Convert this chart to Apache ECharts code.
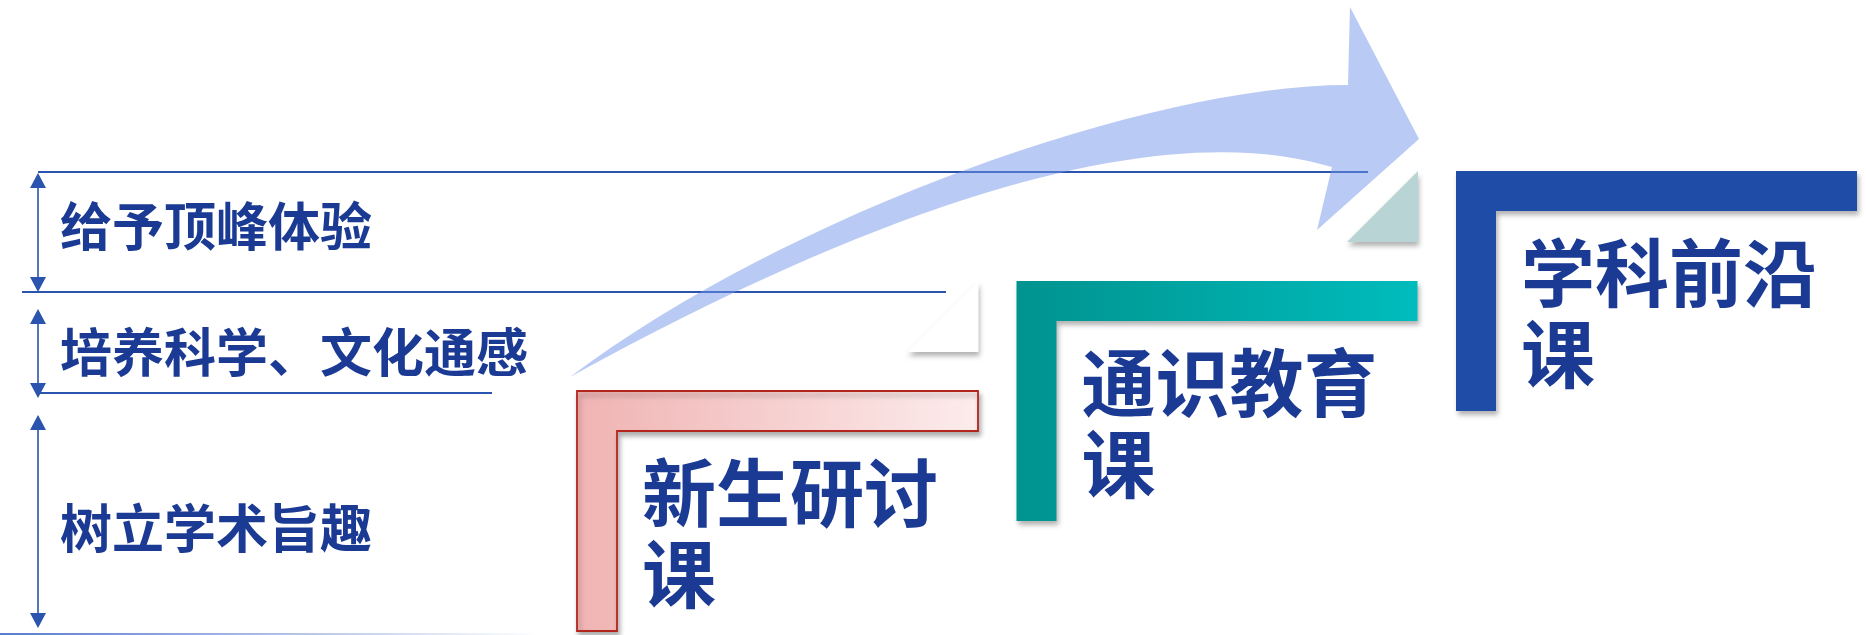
<!DOCTYPE html>
<html><head><meta charset="utf-8">
<script src="https://cdn.jsdelivr.net/npm/echarts@6/dist/echarts.min.js"></script>
<style>html,body{margin:0;padding:0;background:#fff;overflow:hidden}#c{width:1866px;height:635px}</style>
</head><body><div id="c"></div>
<script>
// ---- content ----
const courses = ['新生研讨课', '通识教育课', '学科前沿课'];
const stages = [0, 1, 2];
const goals = ['给予顶峰体验', '培养科学、文化通感', '树立学术旨趣'];

// ---- layout / style (canvas units on hidden axes) ----
const W = 1866, H = 635;
const FONT = '"Noto Sans CJK SC", "Noto Sans", sans-serif';
const TEXT = '#1b3a94';
const LINE = '#2a54ad';
const stageLayout = { x0: 577, y0: 391, dx: 439.5, dy: -110, w: 401, h: 240, t: 40,
  textDx: 65, line1Dy: 102, line2Dy: 183, fontSize: 74, triGap: 38, triSize: 71 };
const stageStyles = [
  { stops: ['#f0b3b3', '#fcecec'], border: '#b3261e', tri: null },
  { stops: ['#00938f', '#00bcbc'], border: null, tri: '#ffffff' },
  { stops: ['#1f4ca6', '#1f4ca6'], border: null, tri: '#b8d4d4' }
];
const bandLayout = [
  { top: 173, bottom: 292, labelY: 226, lineY: 172, lineX0: 38, lineX1: 1368 },
  { top: 309, bottom: 398, labelY: 352, lineY: 292, lineX0: 22, lineX1: 946 },
  { top: 415, bottom: 628, labelY: 528, lineY: 393, lineX0: 38, lineX1: 492 }
];
const axisX = 38, labelX = 60;
const baseLine = { y: 633, x0: 0, x1: 540 };
const arrowShape = {
  tail: [570, 377],
  upper: [[790, 212], [1150, 85], [1348, 85]],
  head: [[1350, 7], [1419, 139], [1317, 230], [1332, 167]],
  lower: [[1213, 131], [990, 146], [570, 377]]
};

const chart = echarts.init(document.getElementById('c'), null, { renderer: 'canvas' });

function renderGoal(params, api) {
  const i = api.value(0);
  const b = bandLayout[i];
  const P = (x, y) => api.coord([x, y]);
  const ch = [];
  const l0 = P(b.lineX0, b.lineY), l1 = P(b.lineX1, b.lineY);
  ch.push({ type: 'line', shape: { x1: l0[0], y1: l0[1], x2: l1[0], y2: l1[1] }, style: { stroke: LINE, lineWidth: 2 } });
  const t = P(axisX, b.top), bt = P(axisX, b.bottom);
  ch.push({ type: 'line', shape: { x1: t[0], y1: t[1] + 12, x2: bt[0], y2: bt[1] - 12 }, style: { stroke: LINE, lineWidth: 1.6 } });
  ch.push({ type: 'polygon', shape: { points: [[t[0], t[1]], [t[0] - 8, t[1] + 15], [t[0] + 8, t[1] + 15]] }, style: { fill: LINE } });
  ch.push({ type: 'polygon', shape: { points: [[bt[0], bt[1]], [bt[0] - 8, bt[1] - 15], [bt[0] + 8, bt[1] - 15]] }, style: { fill: LINE } });
  const lp = P(labelX, b.labelY);
  ch.push({ type: 'text', style: { text: goals[i], x: lp[0], y: lp[1], fill: TEXT, fontSize: 52, fontWeight: 'bold',
    fontFamily: FONT, textAlign: 'left', textVerticalAlign: 'middle' } });
  if (i === goals.length - 1) {
    const a = P(baseLine.x0, baseLine.y), c = P(baseLine.x1, baseLine.y);
    ch.push({ type: 'rect', shape: { x: a[0], y: a[1], width: c[0] - a[0], height: 2 },
      style: { fill: new echarts.graphic.LinearGradient(0, 0, 1, 0, [
        { offset: 0, color: 'rgba(70,110,200,0.9)' }, { offset: 1, color: 'rgba(70,110,200,0)' }]) } });
  }
  return { type: 'group', children: ch };
}

function renderStage(params, api) {
  const i = api.value(0);
  const L = stageLayout, S = stageStyles[i];
  const ox = L.x0 + i * L.dx, oy = L.y0 + i * L.dy;
  const P = (x, y) => api.coord([x, y]);
  const ch = [];
  if (S.tri) {
    const rx = ox - L.triGap;
    const tp = [[rx, oy], [rx, oy + L.triSize], [rx - L.triSize, oy + L.triSize]].map(p => P(p[0], p[1]));
    ch.push({ type: 'polygon', shape: { points: tp },
      style: { fill: S.tri, shadowBlur: 5, shadowOffsetX: 1, shadowOffsetY: 4, shadowColor: 'rgba(0,0,0,0.3)' } });
  }
  const pts = [[0, 0], [L.w, 0], [L.w, L.t], [L.t, L.t], [L.t, L.h], [0, L.h]].map(p => P(ox + p[0], oy + p[1]));
  ch.push({ type: 'polygon', shape: { points: pts },
    style: {
      fill: new echarts.graphic.LinearGradient(0, 0, 1, 0, [{ offset: 0, color: S.stops[0] }, { offset: 1, color: S.stops[1] }]),
      stroke: S.border || null, lineWidth: S.border ? 1.8 : 0,
      shadowBlur: 5, shadowOffsetX: 2, shadowOffsetY: 4, shadowColor: 'rgba(0,0,0,0.3)'
    } });
  const name = courses[i];
  const p1 = P(ox + L.textDx, oy + L.line1Dy), p2 = P(ox + L.textDx, oy + L.line2Dy);
  const ts = { fill: TEXT, fontSize: L.fontSize, fontWeight: 'bold', fontFamily: FONT, textAlign: 'left', textVerticalAlign: 'middle' };
  ch.push({ type: 'text', style: Object.assign({ text: name.slice(0, 4), x: p1[0], y: p1[1] }, ts) });
  ch.push({ type: 'text', style: Object.assign({ text: name.slice(4), x: p2[0], y: p2[1] }, ts) });
  return { type: 'group', children: ch };
}

function renderArrow(params, api) {
  const P = (p) => api.coord(p);
  const f = (p) => { const q = P(p); return q[0].toFixed(1) + ' ' + q[1].toFixed(1); };
  const A = arrowShape;
  let d = 'M ' + f(A.tail) + ' C ' + A.upper.map(f).join(' ');
  A.head.forEach(p => { d += ' L ' + f(p); });
  d += ' C ' + A.lower.map(f).join(' ') + ' Z';
  return { type: 'path', shape: { pathData: d }, style: { fill: 'rgba(116,150,234,0.5)' } };
}

chart.setOption({
  animation: false,
  backgroundColor: '#ffffff',
  grid: { left: 0, right: 0, top: 0, bottom: 0 },
  xAxis: { type: 'value', min: 0, max: W, show: false },
  yAxis: { type: 'value', min: 0, max: H, inverse: true, show: false },
  series: [
    { type: 'custom', z: 1, renderItem: renderGoal, data: goals.map((g, i) => [i, i]), silent: true, clip: false },
    { type: 'custom', z: 2, renderItem: renderStage, data: stages.map(s => [s, s]), silent: true, clip: false },
    { type: 'custom', z: 3, renderItem: renderArrow, data: [[0, 0]], silent: true, clip: false }
  ]
});
</script></body></html>
